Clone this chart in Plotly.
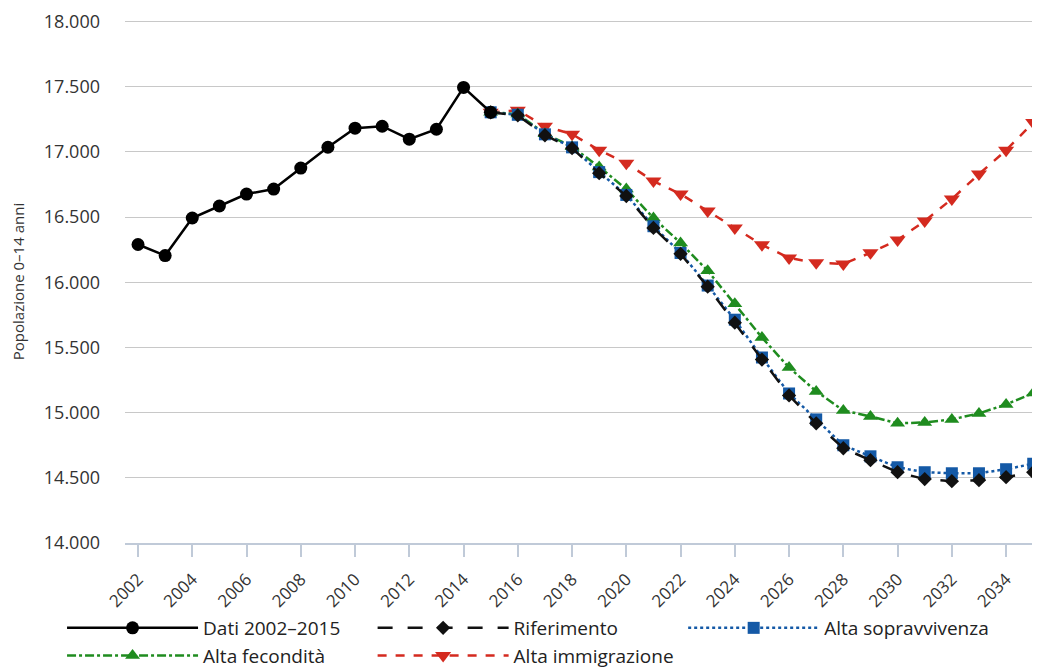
import plotly.graph_objects as go

years_hist = list(range(2002, 2016))
dati = [16290, 16205, 16493, 16585, 16677, 16715, 16876, 17036, 17182, 17197,
        17098, 17174, 17495, 17304]

years_proj = list(range(2015, 2036))
riferimento = [17304, 17281, 17128, 17029, 16837, 16662, 16417, 16218, 15966, 15690,
               15407, 15132, 14918, 14727, 14635, 14543, 14490, 14474, 14482, 14505, 14543]
sopravvivenza = [17304, 17285, 17135, 17035, 16845, 16670, 16430, 16225, 15975, 15713,
                 15423, 15147, 14948, 14750, 14665, 14581, 14543, 14535, 14535, 14566, 14608]
fecondita = [17304, 17290, 17140, 17040, 16885, 16715, 16493, 16302, 16088, 15836,
             15576, 15346, 15163, 15017, 14971, 14918, 14925, 14948, 14994, 15063, 15150]
immigrazione = [17304, 17319, 17197, 17136, 17013, 16914, 16776, 16677, 16547, 16417,
                16287, 16187, 16149, 16141, 16226, 16325, 16470, 16639, 16830, 17013, 17225]

y_ticks = [14000, 14500, 15000, 15500, 16000, 16500, 17000, 17500, 18000]
x_ticks = list(range(2002, 2035, 2))

FONT = "Open Sans"

fig = go.Figure()
fig.add_trace(go.Scatter(x=years_proj, y=immigrazione, name="Alta immigrazione",
                         mode="lines+markers", legendrank=5,
                         line=dict(color="#d42a1f", width=2.5, dash="dash"),
                         marker=dict(symbol="triangle-down", size=14, color="#d42a1f")))
fig.add_trace(go.Scatter(x=years_proj, y=fecondita, name="Alta fecondità",
                         mode="lines+markers", legendrank=4,
                         line=dict(color="#1f8c1f", width=2.5, dash="dashdot"),
                         marker=dict(symbol="triangle-up", size=13, color="#1f8c1f")))
fig.add_trace(go.Scatter(x=years_proj, y=sopravvivenza, name="Alta sopravvivenza",
                         mode="lines+markers", legendrank=3,
                         line=dict(color="#1459a6", width=2.5, dash="dot"),
                         marker=dict(symbol="square", size=12, color="#1459a6")))
fig.add_trace(go.Scatter(x=years_proj, y=riferimento, name="Riferimento",
                         mode="lines+markers", legendrank=2,
                         line=dict(color="#111111", width=2.5, dash="longdash"),
                         marker=dict(symbol="diamond", size=11, color="#111111")))
fig.add_trace(go.Scatter(x=years_hist, y=dati, name="Dati 2002–2015",
                         mode="lines+markers", legendrank=1,
                         line=dict(color="#000000", width=2.5),
                         marker=dict(symbol="circle", size=13, color="#000000")))

fig.update_layout(
    width=1032, height=690,
    margin=dict(l=117, r=0, t=12, b=155),
    paper_bgcolor="white", plot_bgcolor="white",
    separators=",.",
    font=dict(family=FONT, size=16, color="#333333"),
    showlegend=True,
    legend=dict(orientation="h", x=-0.0688, xanchor="left", y=-0.1262, yanchor="top",
                font=dict(family=FONT, size=19, color="#222222"),
                itemwidth=131, traceorder="normal", tracegroupgap=0,
                bgcolor="rgba(0,0,0,0)"),
    xaxis=dict(range=[2001.52, 2035.25], tickmode="array", tickvals=x_ticks,
               ticktext=[str(v) for v in x_ticks], tickangle=-45, automargin=False,
               showgrid=False, zeroline=False, showline=True, linecolor="#c0cad8",
               linewidth=1.5, ticks="outside", ticklen=12, tickcolor="#c0cad8",
               tickwidth=1.5, ticklabelstandoff=6,
               tickfont=dict(family=FONT, size=17, color="#333333")),
    yaxis=dict(range=[14000, 18012], tickmode="array", tickvals=y_ticks,
               tickformat=",d", showgrid=True, gridcolor="#c8c8c8", gridwidth=1.2,
               zeroline=False, showline=False, ticks="", ticklabelstandoff=24,
               automargin=False, ticklabeloverflow="allow",
               tickfont=dict(family=FONT, size=18, color="#333333"),
               title=dict(text="Popolazione 0–14 anni", standoff=20,
                          font=dict(family=FONT, size=15, color="#333333"))),
)

fig.write_html("out.html")
